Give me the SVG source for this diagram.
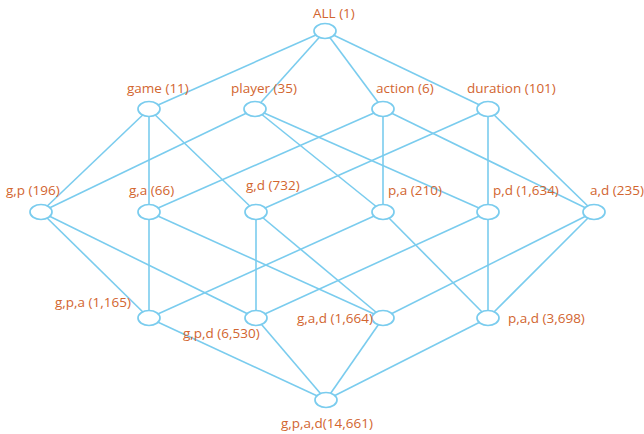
<svg xmlns="http://www.w3.org/2000/svg" width="644" height="434" viewBox="0 0 644 434">
<style>
.e{stroke:#7ACCEE;stroke-width:1.6;fill:none}
.n{fill:#fff;stroke:#7ACCEE;stroke-width:1.7}
.t{font-family:"Open Sans","Liberation Sans",Arial,sans-serif;font-size:13.5px;fill:#D2652F}
</style>
<rect width="644" height="434" fill="#fff"/>
<g id="connectors" class="e">
<line x1="325" y1="31" x2="149" y2="109"/>
<line x1="325" y1="31" x2="255" y2="109"/>
<line x1="325" y1="31" x2="383" y2="109"/>
<line x1="325" y1="31" x2="488" y2="109"/>
<line x1="149" y1="109" x2="41" y2="212"/>
<line x1="149" y1="109" x2="149" y2="212"/>
<line x1="149" y1="109" x2="256" y2="212"/>
<line x1="255" y1="109" x2="41" y2="212"/>
<line x1="255" y1="109" x2="383" y2="212"/>
<line x1="255" y1="109" x2="488" y2="212"/>
<line x1="383" y1="109" x2="149" y2="212"/>
<line x1="383" y1="109" x2="383" y2="212"/>
<line x1="383" y1="109" x2="594" y2="212"/>
<line x1="488" y1="109" x2="256" y2="212"/>
<line x1="488" y1="109" x2="488" y2="212"/>
<line x1="488" y1="109" x2="594" y2="212"/>
<line x1="41" y1="212" x2="149" y2="318"/>
<line x1="41" y1="212" x2="256" y2="318"/>
<line x1="149" y1="212" x2="149" y2="318"/>
<line x1="149" y1="212" x2="383" y2="318"/>
<line x1="256" y1="212" x2="256" y2="318"/>
<line x1="256" y1="212" x2="383" y2="318"/>
<line x1="383" y1="212" x2="149" y2="318"/>
<line x1="383" y1="212" x2="488" y2="318"/>
<line x1="488" y1="212" x2="256" y2="318"/>
<line x1="488" y1="212" x2="488" y2="318"/>
<line x1="594" y1="212" x2="383" y2="318"/>
<line x1="594" y1="212" x2="488" y2="318"/>
<line x1="149" y1="318" x2="326" y2="400"/>
<line x1="256" y1="318" x2="326" y2="400"/>
<line x1="383" y1="318" x2="326" y2="400"/>
<line x1="488" y1="318" x2="326" y2="400"/>
</g>
<g id="all"><ellipse class="n" cx="325" cy="31" rx="11" ry="7.5"/><text class="t" x="313" y="18">ALL (1)</text></g>
<g id="game"><ellipse class="n" cx="149" cy="109" rx="11" ry="7.5"/><text class="t" x="127" y="93">game (11)</text></g>
<g id="player"><ellipse class="n" cx="255" cy="109" rx="11" ry="7.5"/><text class="t" x="231" y="93">player (35)</text></g>
<g id="action"><ellipse class="n" cx="383" cy="109" rx="11" ry="7.5"/><text class="t" x="376" y="93">action (6)</text></g>
<g id="duration"><ellipse class="n" cx="488" cy="109" rx="11" ry="7.5"/><text class="t" x="467" y="93">duration (101)</text></g>
<g id="gp"><ellipse class="n" cx="41" cy="212" rx="11" ry="7.5"/><text class="t" x="6" y="195">g,p (196)</text></g>
<g id="ga"><ellipse class="n" cx="149" cy="212" rx="11" ry="7.5"/><text class="t" x="129" y="195">g,a (66)</text></g>
<g id="gd"><ellipse class="n" cx="256" cy="212" rx="11" ry="7.5"/><text class="t" x="246" y="190">g,d (732)</text></g>
<g id="pa"><ellipse class="n" cx="383" cy="212" rx="11" ry="7.5"/><text class="t" x="388" y="195">p,a (210)</text></g>
<g id="pd"><ellipse class="n" cx="488" cy="212" rx="11" ry="7.5"/><text class="t" x="493" y="195">p,d (1,634)</text></g>
<g id="ad"><ellipse class="n" cx="594" cy="212" rx="11" ry="7.5"/><text class="t" x="590" y="195">a,d (235)</text></g>
<g id="gpa"><ellipse class="n" cx="149" cy="318" rx="11" ry="7.5"/><text class="t" x="55" y="307">g,p,a (1,165)</text></g>
<g id="gpd"><ellipse class="n" cx="256" cy="318" rx="11" ry="7.5"/><text class="t" x="183" y="338">g,p,d (6,530)</text></g>
<g id="gad"><ellipse class="n" cx="383" cy="318" rx="11" ry="7.5"/><text class="t" x="297" y="323">g,a,d (1,664)</text></g>
<g id="pad"><ellipse class="n" cx="488" cy="318" rx="11" ry="7.5"/><text class="t" x="508" y="323">p,a,d (3,698)</text></g>
<g id="gpad"><ellipse class="n" cx="326" cy="400" rx="11" ry="7.5"/><text class="t" x="281" y="428">g,p,a,d(14,661)</text></g>
</svg>
